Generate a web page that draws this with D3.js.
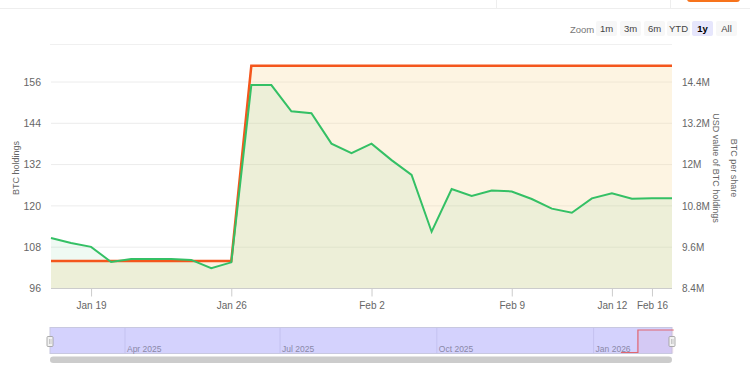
<!DOCTYPE html>
<html>
<head>
<meta charset="utf-8">
<script src="https://cdn.jsdelivr.net/npm/d3@7"></script>
<style>
  body { margin: 0; background: #fff; }
  svg { display: block; font-family: "Liberation Sans", Arial, Helvetica, sans-serif; }
</style>
</head>
<body>
<svg id="chart" width="750" height="375"></svg>
<script>
// daily dates shown in the main panel
const dates = d3.timeDays(new Date(2026, 0, 17), new Date(2026, 1, 18));

// BTC holdings (left axis)
const btcHoldings = [104, 104, 104, 104, 104, 104, 104, 104, 104, 104,
  160.7, 160.7, 160.7, 160.7, 160.7, 160.7, 160.7, 160.7, 160.7, 160.7,
  160.7, 160.7, 160.7, 160.7, 160.7, 160.7, 160.7, 160.7, 160.7, 160.7,
  160.7, 160.7];

// USD value of BTC holdings, millions (right axis)
const usdValue = [9.87, 9.72, 9.61, 9.17, 9.26, 9.26, 9.26, 9.23, 8.99, 9.16,
  14.31, 14.31, 13.55, 13.49, 12.61, 12.33, 12.61, 12.13, 11.70, 10.05,
  11.29, 11.09, 11.25, 11.22, 11.00, 10.72, 10.60, 11.02, 11.17, 11.01,
  11.02, 11.02];

const leftTicks = [96, 108, 120, 132, 144, 156];
const rightTicks = [8.4, 9.6, 10.8, 12, 13.2, 14.4];
const xTickDates = [new Date(2026, 0, 19), new Date(2026, 0, 26), new Date(2026, 1, 2),
  new Date(2026, 1, 9), new Date(2026, 1, 14), new Date(2026, 1, 16)];
const xTickLabels = ["Jan 19", "Jan 26", "Feb 2", "Feb 9", "Jan 12", "Feb 16"];

const navTickDates = [new Date(2025, 3, 1), new Date(2025, 6, 1), new Date(2025, 9, 1), new Date(2026, 0, 1)];
const navTickLabels = ["Apr 2025", "Jul 2025", "Oct 2025", "Jan 2026"];

const zoomButtons = ["1m", "3m", "6m", "YTD", "1y", "All"];

const svg = d3.select("#chart");
const orange = "#f4561c";
const green = "#34c065";

// page chrome at the top
svg.append("line").attr("x1", 0).attr("x2", 750).attr("y1", 8.5).attr("y2", 8.5)
  .attr("stroke", "#eeeeee");
svg.append("line").attr("x1", 496.5).attr("x2", 496.5).attr("y1", 0).attr("y2", 8)
  .attr("stroke", "#eeeeee");
svg.append("line").attr("x1", 670.5).attr("x2", 670.5).attr("y1", 0).attr("y2", 8)
  .attr("stroke", "#eeeeee");
svg.append("rect").attr("x", 687).attr("y", -6).attr("width", 53).attr("height", 8)
  .attr("rx", 3).attr("fill", "#f7731c");
svg.append("line").attr("x1", 50).attr("x2", 672).attr("y1", 44.5).attr("y2", 44.5)
  .attr("stroke", "#f0f0f0");

// zoom buttons
svg.append("text").attr("x", 570).attr("y", 32.5).attr("font-size", 9.5)
  .attr("fill", "#777").text("Zoom");
const btnX = [596, 620, 644, 667, 692, 716];
const btnW = [21, 21, 21, 23, 21, 21];
zoomButtons.forEach((b, i) => {
  const g = svg.append("g").attr("transform", `translate(${btnX[i]},21)`);
  g.append("rect").attr("width", btnW[i]).attr("height", 15).attr("rx", 2)
    .attr("fill", b === "1y" ? "#e6e6fc" : "#f7f7f7");
  g.append("text").attr("x", btnW[i] / 2).attr("y", 11.3).attr("text-anchor", "middle")
    .attr("font-size", 9.5).attr("font-weight", b === "1y" ? "bold" : "normal")
    .attr("fill", b === "1y" ? "#000" : "#444").text(b);
});

// main plot scales
const x = d3.scaleTime()
  .domain([dates[0], dates[dates.length - 1]])
  .range([51, 672]);
const yL = d3.scaleLinear().domain([96, 156]).range([288.5, 82]);
const yR = d3.scaleLinear().domain([8.4, 14.4]).range([288.5, 82]);

// gridlines
svg.append("g")
  .selectAll("line")
  .data(leftTicks.slice(1))
  .join("line")
    .attr("x1", 51).attr("x2", 672)
    .attr("y1", d => yL(d)).attr("y2", d => yL(d))
    .attr("stroke", "#ececec");

// areas
const btcArea = d3.area().x((d, i) => x(dates[i])).y0(yL(96)).y1(d => yL(d));
const usdArea = d3.area().x((d, i) => x(dates[i])).y0(yR(8.4)).y1(d => yR(d));
svg.append("path").datum(btcHoldings).attr("d", btcArea)
  .attr("fill", "#f9d9a0").attr("fill-opacity", 0.3);
svg.append("path").datum(usdValue).attr("d", usdArea)
  .attr("fill", green).attr("fill-opacity", 0.08);

// lines
svg.append("path").datum(btcHoldings)
  .attr("d", d3.line().x((d, i) => x(dates[i])).y(d => yL(d)))
  .attr("fill", "none").attr("stroke", orange).attr("stroke-width", 2.5);
svg.append("path").datum(usdValue)
  .attr("d", d3.line().x((d, i) => x(dates[i])).y(d => yR(d)))
  .attr("fill", "none").attr("stroke", green).attr("stroke-width", 2);

// x axis
const xAxis = svg.append("g").attr("transform", "translate(0,288.5)")
  .call(d3.axisBottom(x).tickValues(xTickDates)
    .tickFormat((d, i) => xTickLabels[i]).tickSize(8).tickSizeOuter(0));
xAxis.select(".domain").attr("stroke", "#cccccc").attr("d", "M51,0H672");
xAxis.selectAll(".tick line").attr("stroke", "#cccccc");
xAxis.selectAll(".tick text").attr("fill", "#666").attr("font-size", 10)
  .attr("font-family", "'Liberation Sans', Arial, sans-serif").attr("dy", "0.9em");

// left axis
const lAxis = svg.append("g").attr("transform", "translate(41,0)")
  .call(d3.axisLeft(yL).tickValues(leftTicks).tickSize(0).tickPadding(0));
lAxis.select(".domain").remove();
lAxis.selectAll("text").attr("fill", "#666").attr("font-size", 10.5)
  .attr("font-family", "'Liberation Sans', Arial, sans-serif");

// right axis
const rAxis = svg.append("g").attr("transform", "translate(682,0)")
  .call(d3.axisRight(yR).tickValues(rightTicks).tickSize(0).tickPadding(0)
    .tickFormat(d => d + "M"));
rAxis.select(".domain").remove();
rAxis.selectAll("text").attr("fill", "#666").attr("font-size", 10)
  .attr("font-family", "'Liberation Sans', Arial, sans-serif");

// axis titles
svg.append("text").attr("transform", "translate(19,168) rotate(-90)")
  .attr("text-anchor", "middle").attr("font-size", 9).attr("fill", "#666")
  .text("BTC holdings");
svg.append("text").attr("transform", "translate(713,168) rotate(90)")
  .attr("text-anchor", "middle").attr("font-size", 9).attr("fill", "#666")
  .text("USD value of BTC holdings");
svg.append("text").attr("transform", "translate(731,168) rotate(90)")
  .attr("text-anchor", "middle").attr("font-size", 9).attr("fill", "#666")
  .text("BTC per share");

// navigator
const xN = d3.scaleTime()
  .domain([new Date(2025, 1, 16), new Date(2026, 1, 16)])
  .range([50, 672]);
const yN = d3.scaleLinear().domain([104, 160.7]).range([352.5, 330]);

svg.append("rect").attr("x", 50).attr("y", 327.5).attr("width", 622).attr("height", 26)
  .attr("fill", "#d4d2fd").attr("stroke", "#c8c8e0").attr("stroke-width", 1);

svg.append("g").selectAll("line").data(navTickDates).join("line")
  .attr("x1", d => xN(d)).attr("x2", d => xN(d))
  .attr("y1", 328).attr("y2", 353)
  .attr("stroke", "#c4c2f0");
svg.append("g").selectAll("text").data(navTickDates).join("text")
  .attr("x", d => xN(d) + 2).attr("y", 352)
  .attr("font-size", 8.5).attr("fill", "#8a88a8")
  .text((d, i) => navTickLabels[i]);

svg.append("path").datum(btcHoldings)
  .attr("d", d3.area().x((d, i) => xN(dates[i])).y0(353).y1(d => yN(d)))
  .attr("fill", "#d86a8a").attr("fill-opacity", 0.08);
svg.append("path").datum(btcHoldings)
  .attr("d", d3.line().x((d, i) => xN(dates[i])).y(d => yN(d)).curve(d3.curveStepAfter))
  .attr("fill", "none").attr("stroke", "#e06670").attr("stroke-width", 1.2);

// handles
[50, 672].forEach(hx => {
  svg.append("rect").attr("x", hx - 3).attr("y", 336.5).attr("width", 6).attr("height", 10)
    .attr("rx", 1).attr("fill", "#f2f2f2").attr("stroke", "#999").attr("stroke-width", 0.8);
  svg.append("line").attr("x1", hx - 0.5).attr("x2", hx - 0.5).attr("y1", 339).attr("y2", 344)
    .attr("stroke", "#aaa").attr("stroke-width", 0.6);
  svg.append("line").attr("x1", hx + 1).attr("x2", hx + 1).attr("y1", 339).attr("y2", 344)
    .attr("stroke", "#aaa").attr("stroke-width", 0.6);
});

// scrollbar
svg.append("rect").attr("x", 50).attr("y", 356.5).attr("width", 622).attr("height", 6.5)
  .attr("rx", 3.2).attr("fill", "#cccccc");
</script>
</body>
</html>
